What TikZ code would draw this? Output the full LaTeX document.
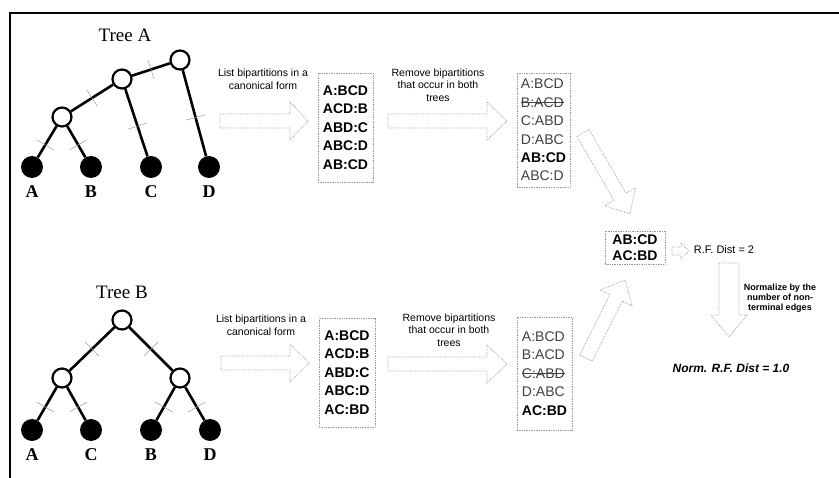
\documentclass[tikz,border=0pt]{standalone}
\usepackage{fontspec}
\setmainfont{Liberation Serif}
\setsansfont{Liberation Sans}
\usepackage{tikz}
\usetikzlibrary{positioning,calc}
\newcommand{\strikeout}[1]{\setbox0\hbox{#1}\rlap{\raisebox{0.33em}{\rule{\wd0}{0.6pt}}}\box0}
\newcommand{\hollowarrow}[5]{%
  \draw[hollow] let \p1=(#1), \p2=(#2), \n1={atan2(\y2-\y1,\x2-\x1)}, \n2={veclen(\x2-\x1,\y2-\y1)} in
    {[shift={(\p1)}, rotate=\n1] (0,#3) -- ({\n2-#5},#3) -- ({\n2-#5},#4) -- (\n2,0) -- ({\n2-#5},-#4) -- ({\n2-#5},-#3) -- (0,-#3) -- cycle};}

\begin{document}
\begin{tikzpicture}[
  x=1pt, y=-1pt,
  inner/.style={circle, draw, line width=2.2pt, fill=white, minimum size=19pt, inner sep=0pt},
  leaf/.style={circle, fill=black, minimum size=22pt, inner sep=0pt},
  edge/.style={line width=2.6pt},
  tick/.style={sloped, rectangle, draw=gray!80, densely dashed, line width=0.5pt, minimum width=0pt, minimum height=20pt, inner sep=0pt},
  leaflabel/.style={font=\fontsize{18}{20}\selectfont\bfseries, inner sep=2pt},
  treetitle/.style={font=\fontsize{19}{21}\selectfont},
  steplabel/.style={font=\sffamily\fontsize{10.5}{12.5}\selectfont, align=center},
  listbox/.style={draw=gray!80, densely dotted, line width=0.7pt, font=\sffamily\fontsize{14}{18.4}\selectfont, align=left, inner sep=3pt},
  hollow/.style={draw=gray!80, densely dotted, line width=0.7pt, fill=white}
]
  \useasboundingbox (0,0) rectangle (839,478);
  \draw[line width=1.6pt] (10,478) -- (10,13) -- (839,13);

  % Tree A
  \node[treetitle] (titleA) at (125,35) {Tree A};
  \node[inner] (rootA) at (180,60) {};
  \node[inner] (midA) at (122,79) {};
  \node[inner] (lowA) at (62,117) {};
  \node[leaf] (a1) at (32,167) {};
  \node[leaf] (a2) at (91,167) {};
  \node[leaf] (a3) at (151,167) {};
  \node[leaf] (a4) at (209,167) {};
  \draw[edge] (rootA) -- node[tick]{} (midA);
  \draw[edge] (midA) -- node[tick]{} (lowA);
  \draw[edge] (lowA) -- node[tick, pos=0.6]{} (a1);
  \draw[edge] (lowA) -- node[tick, pos=0.6]{} (a2);
  \draw[edge] (midA) -- node[tick, pos=0.55]{} (a3);
  \draw[edge] (rootA) -- node[tick, pos=0.55]{} (a4);
  \node[leaflabel, below=5pt of a1] (a1t) {A};
  \node[leaflabel, below=5pt of a2] (a2t) {B};
  \node[leaflabel, below=5pt of a3] (a3t) {C};
  \node[leaflabel, below=5pt of a4] (a4t) {D};

  % Tree B
  \node[treetitle] (titleB) at (122,292) {Tree B};
  \node[inner] (rootB) at (122,320) {};
  \node[inner] (leftB) at (62,378) {};
  \node[inner] (rightB) at (180,378) {};
  \node[leaf] (b1) at (32,430) {};
  \node[leaf] (b2) at (91,430) {};
  \node[leaf] (b3) at (151,430) {};
  \node[leaf] (b4) at (210,430) {};
  \draw[edge] (rootB) -- node[tick]{} (leftB);
  \draw[edge] (rootB) -- node[tick]{} (rightB);
  \draw[edge] (leftB) -- node[tick, pos=0.6]{} (b1);
  \draw[edge] (leftB) -- node[tick, pos=0.6]{} (b2);
  \draw[edge] (rightB) -- node[tick, pos=0.6]{} (b3);
  \draw[edge] (rightB) -- node[tick, pos=0.6]{} (b4);
  \node[leaflabel, below=5pt of b1] (b1t) {A};
  \node[leaflabel, below=5pt of b2] (b2t) {C};
  \node[leaflabel, below=5pt of b3] (b3t) {B};
  \node[leaflabel, below=5pt of b4] (b4t) {D};

  % bipartition lists
  \node[listbox, font=\sffamily\bfseries\fontsize{14}{18.4}\selectfont, minimum width=55pt, minimum height=109pt] (listA) at (345.5,127.5)
    {A:BCD\\ACD:B\\ABD:C\\ABC:D\\AB:CD};
  \node[listbox, text=black!75, minimum width=53pt, minimum height=114pt] (diffA) at (543.5,130)
    {A:BCD\\\strikeout{B:ACD}\\C:ABD\\D:ABC\\\textcolor{black}{\textbf{AB:CD}}\\ABC:D};
  \node[listbox, font=\sffamily\bfseries\fontsize{14}{18.4}\selectfont, minimum width=56pt, minimum height=109pt] (listB) at (347,372.5)
    {A:BCD\\ACD:B\\ABD:C\\ABC:D\\AC:BD};
  \node[listbox, text=black!75, minimum width=55pt, minimum height=113pt] (diffB) at (544.5,373.5)
    {A:BCD\\B:ACD\\\strikeout{C:ABD}\\D:ABC\\\textcolor{black}{\textbf{AC:BD}}};
  \node[listbox, font=\sffamily\bfseries\fontsize{14}{16}\selectfont, align=center, minimum width=60pt, minimum height=33pt, inner sep=2pt] (result) at (635,247.5)
    {AB:CD\\AC:BD};

  % step labels
  \node[steplabel] (listlblA) at (263,79) {List bipartitions in a\\canonical form};
  \node[steplabel] (remlblA) at (438,85) {Remove bipartitions\\that occur in both\\trees};
  \node[steplabel] (listlblB) at (261,325) {List bipartitions in a\\canonical form};
  \node[steplabel] (remlblB) at (449,330) {Remove bipartitions\\that occur in both\\trees};
  \node[font=\sffamily\fontsize{11}{13}\selectfont] (rf) at (724,250) {R.F. Dist = 2};
  \node[font=\sffamily\bfseries\fontsize{9}{10.2}\selectfont, align=center] (normlbl) at (780,298) {Normalize by the\\number of non-\\terminal edges};
  \node[font=\sffamily\bfseries\itshape\fontsize{12}{14}\selectfont] (norm) at (731,368) {Norm. R.F. Dist = 1.0};

  % hollow arrows
  \coordinate (arA1s) at (220,121); \coordinate (arA1e) at (308,121);
  \coordinate (arA2s) at (388,121); \coordinate (arA2e) at (507,121);
  \coordinate (arB1s) at (221,363); \coordinate (arB1e) at (309,363);
  \coordinate (arB2s) at (388,364); \coordinate (arB2e) at (507,364);
  \coordinate (arAds) at (583,133); \coordinate (arAde) at (630,214);
  \coordinate (arBds) at (586,358); \coordinate (arBde) at (625,280);
  \coordinate (arRs) at (672,251); \coordinate (arRe) at (689,251);
  \coordinate (arNs) at (729,263); \coordinate (arNe) at (729,337);
  \hollowarrow{arA1s}{arA1e}{7}{19}{18}
  \hollowarrow{arA2s}{arA2e}{7}{19}{20}
  \hollowarrow{arB1s}{arB1e}{7}{19}{19}
  \hollowarrow{arB2s}{arB2e}{7}{19}{20}
  \hollowarrow{arAds}{arAde}{7}{18}{20}
  \hollowarrow{arBds}{arBde}{7}{18}{20}
  \hollowarrow{arRs}{arRe}{4}{8}{8}
  \hollowarrow{arNs}{arNe}{10}{18}{22}
\end{tikzpicture}
\end{document}
